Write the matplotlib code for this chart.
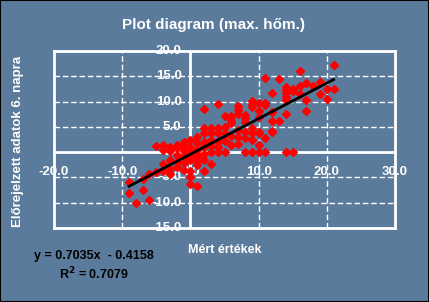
import matplotlib.pyplot as plt
from matplotlib.patches import Rectangle

meas = [-9, -9, -8, -7, -7, -6, -6, -5, -5,
        -4, -4, -4, -4, -3, -3, -3, -3, -3,
        -2, -2, -2, -2, -2, -1, -1, -1, -1, -1, -1,
        0, 0, 0, 0, 0, 0, 0, 0,
        1, 1, 1, 1, 1, 1, 1, 1,
        2, 2, 2, 2, 2, 2, 2, 2,
        3, 3, 3, 3, 3, 3,
        4, 4, 4, 4, 4, 4,
        5, 5, 5, 5, 5,
        6, 6, 6, 6, 6,
        7, 7, 7, 7, 7, 7,
        8, 8, 8, 8, 8, 8,
        9, 9, 9, 9, 9, 9, 9,
        10, 10, 10, 10, 10, 10, 10,
        11, 11, 11, 11, 11,
        12, 12, 12, 12, 12,
        13, 13,
        14, 14, 14, 14, 14, 14, 14,
        15, 15, 15,
        16, 16, 16,
        17, 17, 17,
        18,
        19, 19,
        20, 20,
        21, 21]
fcst = [-6.0, -8.0, -10.1, -5.4, -7.5, -9.5, -4.3, -3.9, 1.2,
        1.4, -2.4, -3.7, 0.4, 1.0, -1.6, -3.3, -4.3, 0.3,
        1.5, -0.5, -2.0, 0.8, -3.0, 1.2, 0.3, -1.0, -2.2, -3.5, 2.0,
        2.4, 1.0, 0.0, -1.5, -3.7, -5.0, -6.3, -0.7,
        1.9, 0.5, -1.0, -2.0, -2.5, -6.6, 3.0, -0.3,
        8.5, 4.7, 3.8, -0.4, -1.5, -3.7, 2.0, 1.0,
        3.8, 2.5, -2.4, 1.2, 0.0, 4.8,
        9.6, 4.7, 3.8, 2.0, 0.0, 1.0,
        7.1, 3.8, 0.0, 5.0, 2.2,
        6.3, 5.7, 3.1, 7.2, 1.5,
        9.2, 8.3, 7.5, 4.3, 3.0, 1.7,
        7.3, 6.7, 6.0, 2.7, 0.0, 4.0,
        10.1, 9.5, 9.0, 4.8, 3.7, 0.0, 2.5,
        9.8, 8.1, 7.0, 3.7, 1.5, 0.0, 4.0,
        14.6, 9.4, 2.7, 0.0, 9.8,
        11.6, 8.0, 6.1, 3.9, 4.2,
        14.4, 6.1,
        12.9, 12.3, 11.6, 10.9, 10.3, 7.6, 0.0,
        12.5, 12.0, 0.0,
        16.1, 13.0, 11.5,
        13.6, 10.4, 8.1,
        13.1,
        13.8, 11.5,
        12.5, 10.5,
        17.3, 12.5]

slope = 0.7035
icept = -0.4158
xticks = [-20, -10, 0, 10, 20, 30]
yticks = [-15, -10, -5, 0, 5, 10, 15, 20]

bg = '#5b7b9c'
plt.rcParams['font.family'] = ['Liberation Sans', 'DejaVu Sans']
plt.rcParams['font.weight'] = 'bold'

fig = plt.figure(figsize=(4.29, 3.02), dpi=100, facecolor=bg)
fig.patches.append(Rectangle((0, 0), 1, 1, transform=fig.transFigure,
                             fill=False, ec='black', lw=1.5))
ax = fig.add_axes([54 / 429, 1 - 228 / 302, 341 / 429, 177 / 302])
ax.set_facecolor(bg)
ax.set_xlim(-20, 30)
ax.set_ylim(-15, 20)

for v in xticks[1:-1]:
    if v != 0:
        ax.axvline(v, color='white', lw=1, ls=(0, (4, 2)), zorder=1)
for v in yticks[1:-1]:
    if v != 0:
        ax.axhline(v, color='white', lw=1, ls=(0, (4, 2)), zorder=1)
ax.axvline(0, color='white', lw=2, zorder=1)
ax.axhline(0, color='white', lw=2, zorder=1)
for s in ax.spines.values():
    s.set_color('white')
    s.set_linewidth(2)
ax.set_xticks([])
ax.set_yticks([])

for v in yticks:
    ax.text(-1.3, v, f'{v:.1f}', color='white', fontsize=9.5,
            ha='right', va='center', zorder=2)
for v in xticks:
    ax.text(v, -3.9, f'{v:.1f}', color='white', fontsize=9.5,
            ha='center', va='center', zorder=2)

ax.plot(meas, fcst, 'D', color='#ff0000', ms=4.2, mec='#ff0000', zorder=3)
x0, x1 = min(meas), max(meas)
ax.plot([x0, x1], [slope * x0 + icept, slope * x1 + icept],
        color='black', lw=2, zorder=4)

fig.text(213.5 / 429, 1 - 25 / 302, 'Plot diagram (max. hőm.)', color='white',
         fontsize=11, ha='center', va='center')
fig.text(18 / 429, 1 - 141 / 302, 'Előrejelzett adatok 6. napra', color='white',
         fontsize=9.5, rotation=90, ha='center', va='center')
fig.text(225 / 429, 1 - 250 / 302, 'Mért értékek', color='white',
         fontsize=9, ha='center', va='center')
fig.text(94 / 429, 1 - 256 / 302, 'y = 0.7035x  - 0.4158', color='black',
         fontsize=9, ha='center', va='center')
fig.text(94 / 429, 1 - 274 / 302, 'R$^2$ = 0.7079', color='black',
         fontsize=9, ha='center', va='center')

fig.savefig('out.png', dpi=100, facecolor=bg)
